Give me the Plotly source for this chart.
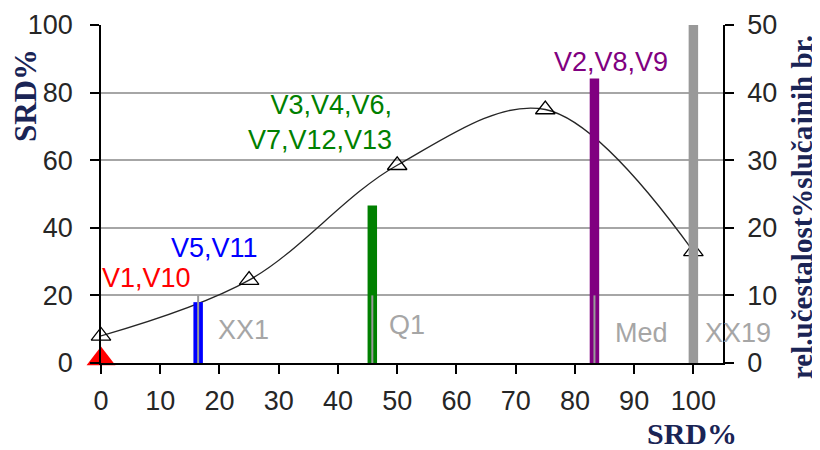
import plotly.graph_objects as go

# ---- data ----
curve_x = [0, 25, 50, 75, 100]
curve_y = [8, 24.5, 58.5, 75, 33]          # left axis (SRD%)

bar_x = [16.4, 45.8, 83.3, 100]
bar_h = [9.0, 23.3, 42.1, 50]              # right axis units
bar_colors = ["#0000FF", "#008000", "#800080", "#999999"]

quant_x = [16.4, 45.8, 83.3]
quant_h = [10, 10, 10]                     # right axis units

red_x = [0]
red_y = [0.6]

group_labels = ["V1,V10", "V5,V11", "V3,V4,V6,<br>V7,V12,V13", "V2,V8,V9"]
group_colors = ["#FF0000", "#0000FF", "#008000", "#800080"]
group_x = [7.7, 19.2, 37.0, 86.1]
group_y = [25.1, 34.0, 71.2, 89.0]

q_labels = ["XX1", "Q1", "Med", "XX19"]
q_lab_x = [24.0, 51.7, 91.3, 107.6]
q_lab_y = [9.8, 11.2, 8.9, 8.9]

x_ticks = list(range(0, 101, 10))
y_ticks = [0, 20, 40, 60, 80, 100]
y2_ticks = [0, 10, 20, 30, 40, 50]

# ---- layout geometry (pixels); page body has an 8px margin ----
OFF = 8
W, H = 820 - OFF, 450 - OFF
L, T = 101 - OFF, 25 - OFF
R, B = W - (723 - OFF), H - (363 - OFF)
pw, ph = W - L - R, H - T - B
X0, X1 = 0, 105
Y0, Y1 = 0, 100


def px_x(px):
    return (px - OFF - L) / pw


def px_y(py):
    return (H - B - (py - OFF)) / ph


# ---- figure ----
fig = go.Figure()

fig.add_trace(go.Scatter(
    x=curve_x, y=curve_y, mode="lines+markers",
    line=dict(color="#262626", width=1.3, shape="spline", smoothing=1.0),
    marker=dict(symbol="triangle-up-open", size=17, color="black", line=dict(width=1.3)),
    yaxis="y", showlegend=False, cliponaxis=False))

fig.add_trace(go.Bar(
    x=bar_x, y=bar_h, width=1.6, marker=dict(color=bar_colors, line=dict(width=0)),
    yaxis="y2", showlegend=False))

qx, qy = [], []
for x, h in zip(quant_x, quant_h):
    qx += [x, x, None]
    qy += [0, h, None]
fig.add_trace(go.Scatter(
    x=qx, y=qy, mode="lines", line=dict(color="#999999", width=2),
    yaxis="y2", showlegend=False))

fig.add_trace(go.Scatter(
    x=red_x, y=red_y, mode="markers",
    marker=dict(symbol="triangle-up", size=25, color="#FF0000"),
    yaxis="y2", showlegend=False, cliponaxis=False))

font_lbl = "Liberation Sans, Arial, sans-serif"
ann = []
for t, c, x, y in zip(group_labels, group_colors, group_x, group_y):
    ann.append(dict(x=x, y=y, xref="x", yref="y", text=t, showarrow=False,
                    xanchor="center", yanchor="middle",
                    font=dict(family=font_lbl, size=27, color=c), align="right"))
for t, x, y in zip(q_labels, q_lab_x, q_lab_y):
    ann.append(dict(x=(x - X0) / (X1 - X0), y=(y - Y0) / (Y1 - Y0),
                    xref="paper", yref="paper", text=t, showarrow=False,
                    xanchor="center", yanchor="middle",
                    font=dict(family=font_lbl, size=27, color="#A6A6A6")))

serif = "Liberation Serif, Times New Roman, serif"
navy = "#1a2455"
ann.append(dict(x=px_x(26), y=px_y(96), xref="paper", yref="paper", text="<b>SRD%</b>",
                showarrow=False, textangle=-90, xanchor="center", yanchor="middle",
                font=dict(family=serif, size=31, color=navy)))
ann.append(dict(x=px_x(692), y=px_y(433), xref="paper", yref="paper", text="<b>SRD%</b>",
                showarrow=False, xanchor="center", yanchor="middle",
                font=dict(family=serif, size=30, color=navy)))
ann.append(dict(x=px_x(802), y=px_y(207), xref="paper", yref="paper",
                text="<b>rel.učestalost%slučajnih br.</b>", showarrow=False,
                textangle=-90, xanchor="center", yanchor="middle",
                font=dict(family=serif, size=29, color=navy)))

tick_font = dict(family=font_lbl, size=27, color="#262626")
fig.update_layout(
    width=W, height=H, margin=dict(l=L, r=R, t=T, b=B, autoexpand=False),
    paper_bgcolor="white", plot_bgcolor="white",
    barmode="overlay", annotations=ann,
    xaxis=dict(range=[X0, X1], tickvals=x_ticks, showgrid=False, zeroline=False,
               showline=True, linecolor="black", linewidth=1.5, automargin=False,
               ticks="outside", ticklen=9, tickwidth=1.5, tickcolor="black",
               tickfont=tick_font, ticklabelstandoff=4),
    yaxis=dict(range=[Y0, Y1], tickvals=y_ticks, showgrid=True, gridcolor="#A6A6A6",
               gridwidth=1.5, zeroline=False, showline=True, linecolor="black",
               linewidth=1.5, ticks="outside", ticklen=9, tickwidth=1.5, automargin=False,
               tickcolor="black", tickfont=tick_font, ticklabelstandoff=12),
    yaxis2=dict(range=[0, 50], tickvals=y2_ticks, overlaying="y", side="right",
                showgrid=False, zeroline=False, showline=True, linecolor="black",
                linewidth=1.5, ticks="outside", ticklen=9, tickwidth=1.5, automargin=False,
                tickcolor="black", tickfont=tick_font, ticklabelstandoff=8),
)

fig.write_html("out.html")
